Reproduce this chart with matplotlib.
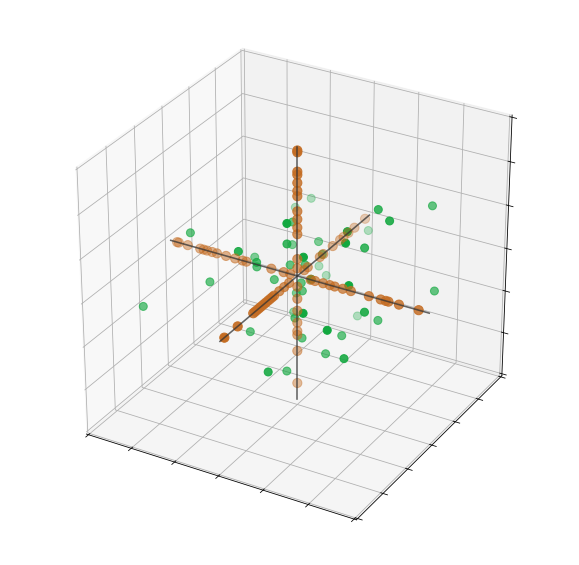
import numpy as np
import matplotlib
matplotlib.use("Agg")
import matplotlib.pyplot as plt
from mpl_toolkits.mplot3d import Axes3D

# green cloud
green_x = [-0.81, -1.04, 0.22, -0.35, 1.33, 1.94, 1.70, 0.35, -2.03, -0.03, -0.03, -0.46,
           1.26, 1.29, 1.29, -0.67, -1.04, -0.62, -0.73, 0.66, 0.07, 0.31, -0.33, -0.18,
           -0.15, -1.45, -0.37, 0.90, 1.55, 0.10, 0.16, -0.15, 2.40, -2.46, 0.93, -0.31,
           0.17, 1.73, 0.60, 1.59, -0.52, 1.41, 1.05, 0.39, 0.87, 1.62, 0.42, 0.30]
green_y = [1.96, 1.72, -0.78, 0.42, 0.83, 1.93, 0.61, 2.24, -0.67, 0.89, -0.35, 0.60,
           -0.27, -0.39, 0.37, -1.11, 0.12, -0.51, -0.32, -0.91, 0.18, 0.44, 1.44, 0.03,
           1.42, -0.91, -0.26, -1.03, -0.72, -0.02, -0.08, 0.22, 1.21, -1.77, -1.39, 0.39,
           -0.39, -0.41, 1.37, 0.40, -0.94, -1.30, -0.08, -0.49, -0.40, -1.01, -1.85, -0.93]
green_z = [0.63, 0.47, 1.64, 0.94, 1.49, 1.22, 1.44, 0.06, 0.75, 0.35, 0.90, 0.30,
           1.50, 1.31, 0.83, 0.92, 0.08, 0.39, 0.16, 1.07, 0.19, 0.37, -0.58, 0.19,
           -0.74, -0.10, -0.06, 0.70, 0.59, -0.12, -0.26, -0.55, -0.26, -0.53, 0.12, -1.13,
           -0.73, -0.12, -1.46, -0.77, -0.97, -0.17, -1.04, -1.08, -1.35, -0.91, -1.14, -1.65]

# orange points, they sit on the three axes
orange_on_x = [-2.77, -2.73, -2.52, -2.23, -2.15, -2.07, -1.95, -1.84, -1.63, -1.42, -1.25, -1.16,
               -0.59, -0.31, -0.16, 0.30, 0.40, 0.58, 0.73, 0.84, 1.02, 1.20, 1.60, 1.86, 1.97,
               2.03, 2.26, 2.69]
orange_on_y = [-2.76, -2.27, -1.69, -1.62, -1.54, -1.46, -1.38, -1.30, -1.22, -1.13, -1.05, -0.97,
               -0.90, -0.70, -0.51, -0.32, 0.27, 0.41, 0.89, 1.03, 1.41, 1.71, 1.85, 2.05, 2.30, 2.74]
orange_on_z = [2.84, 2.80, 2.37, 2.30, 2.12, 1.94, 1.82, 1.48, 1.30, 1.11, 0.96, 0.39, 0.18,
               -0.25, -0.53, -0.81, -1.09, -1.29, -1.38, -1.76, -2.53]

ticks = [-3, -2, -1, 0, 1, 2, 3]
axis_end = 2.92

n_x, n_y, n_z = len(orange_on_x), len(orange_on_y), len(orange_on_z)
orange_x = np.concatenate([orange_on_x, np.zeros(n_y), np.zeros(n_z)])
orange_y = np.concatenate([np.zeros(n_x), orange_on_y, np.zeros(n_z)])
orange_z = np.concatenate([np.zeros(n_x), np.zeros(n_y), orange_on_z])

fig = plt.figure(figsize=(579 / 72, 565 / 72), dpi=72)
ax = fig.add_axes([0, -0.002, 1, 1], projection='3d', computed_zorder=False)
# the cube in the reference is stretched with the figure, so keep the full axes box
ax.apply_aspect = lambda position=None: None
ax.view_init(elev=30, azim=-60)
ax.set_box_aspect((1, 1, 1), zoom=0.905)

ax.scatter(green_x, green_y, green_z, s=64, c='#12a83f', zorder=1)
ax.scatter(orange_x, orange_y, orange_z, s=84, c='#c46c22', zorder=2)

# the axis lines through the origin
ax.plot([-axis_end, axis_end], [0, 0], [0, 0], color='#333333', alpha=0.75, lw=1.6, zorder=3)
ax.plot([0, 0], [-axis_end, axis_end], [0, 0], color='#333333', alpha=0.75, lw=1.6, zorder=3)
ax.plot([0, 0], [0, 0], [-axis_end, axis_end], color='#333333', alpha=0.75, lw=1.6, zorder=3)

ax.set_xlim(-3.05, 3.05)
ax.set_ylim(-3.05, 3.05)
ax.set_zlim(-3.05, 3.05)
ax.set_xticks(ticks)
ax.set_yticks(ticks)
ax.set_zticks(ticks)
ax.set_xticklabels([])
ax.set_yticklabels([])
ax.set_zticklabels([])

fig.savefig('out.png', dpi=72)
